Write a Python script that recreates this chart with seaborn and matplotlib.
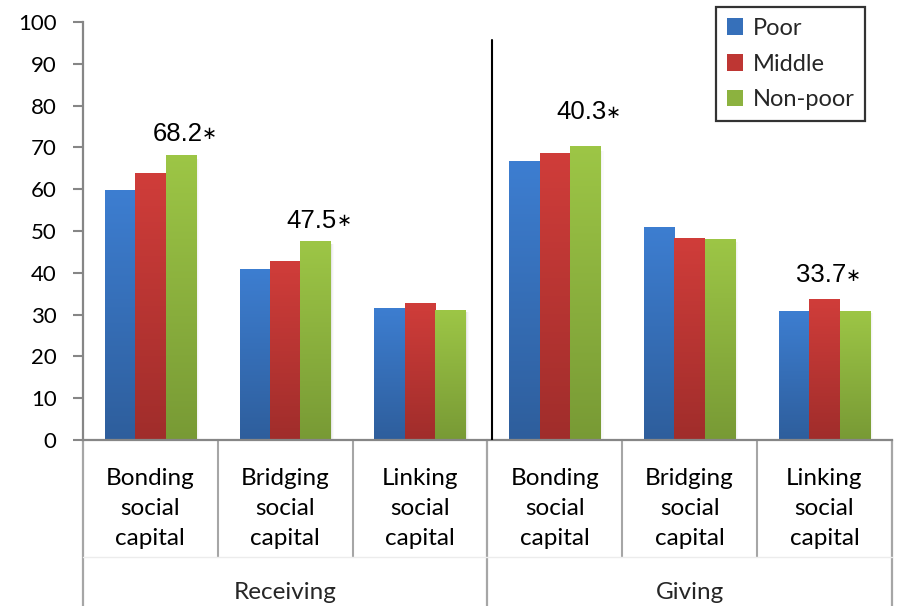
import numpy as np
import pandas as pd
import matplotlib
matplotlib.use("Agg")
import matplotlib.pyplot as plt
import matplotlib.transforms as mtransforms
from matplotlib.patches import Patch, Rectangle
from matplotlib.colors import LinearSegmentedColormap
import seaborn as sns

# ---- data -------------------------------------------------------------
slots = ["R-bond", "R-bridge", "R-link", "G-bond", "G-bridge", "G-link"]
category_labels = ["Bonding\nsocial\ncapital", "Bridging\nsocial\ncapital",
                   "Linking\nsocial\ncapital"] * 2
group_labels = ["Receiving", "Giving"]
income_levels = ["Poor", "Middle", "Non-poor"]

poor = [59.8, 41.0, 31.6, 66.7, 51.0, 30.9]
middle = [63.9, 42.8, 32.8, 68.7, 48.3, 33.7]
non_poor = [68.2, 47.5, 31.1, 70.3, 48.1, 30.9]

# significance notes: (slot index, income level, text)
notes = [(0, "Non-poor", "68.2"), (1, "Non-poor", "47.5"),
         (3, "Non-poor", "40.3"), (5, "Middle", "33.7")]
note_offsets = [3.3, 3.3, 6.4, 4.0]

# gradient colours (top, bottom) per income level
top_colors = ["#3d7ed1", "#d03d3a", "#9dc646"]
bottom_colors = ["#2e5e9c", "#a02d2b", "#789a35"]

df = pd.DataFrame({
    "slot": slots * 3,
    "income": np.repeat(income_levels, len(slots)),
    "value": poor + middle + non_poor,
})

# ---- figure -----------------------------------------------------------
sns.set_theme(style="white")
plt.rcParams["font.family"] = ["Lato", "DejaVu Sans"]

fig = plt.figure(figsize=(8.97, 6.06), dpi=100)
ax = fig.add_axes([0.0925, 0.274, 0.9017, 0.6897])

sns.barplot(data=df, x="slot", y="value", hue="income", order=slots,
            hue_order=income_levels, palette=top_colors, width=0.675,
            gap=0, legend=False, ax=ax, saturation=1)

ax.set_ylim(0, 100)
ax.set_xlim(-0.5, 5.5)

# vertical gradient fill for each bar, plus a soft shadow on its right
bars = [p for p in ax.patches if isinstance(p, Rectangle)]
grad = np.linspace(0, 1, 256).reshape(-1, 1)
for i, bar in enumerate(list(bars)):
    lvl = i // len(slots)
    cmap = LinearSegmentedColormap.from_list(
        f"g{i}", [bottom_colors[lvl], top_colors[lvl]])
    x0, w = bar.get_x(), bar.get_width()
    h = bar.get_height()
    bar.set_facecolor("none")
    bar.set_edgecolor("none")
    if lvl == len(income_levels) - 1:
        for k, a in enumerate([0.10, 0.06, 0.03]):
            ax.add_patch(Rectangle((x0 + w, 0), 0.008 * (k + 1), h * 0.985,
                                   facecolor="#7f7f7f", alpha=a,
                                   edgecolor="none", zorder=1))
    im = ax.imshow(grad, extent=(x0, x0 + w, 0, h), origin="lower",
                   cmap=cmap, aspect="auto", zorder=2)
    im.set_clip_path(bar)
ax.set_xlim(-0.5, 5.5)
ax.set_ylim(0, 100)

# value notes with a small significance mark after each number
pos = {lvl: (j - 1) * 0.225 for j, lvl in enumerate(income_levels)}
vals = dict(zip(income_levels, [poor, middle, non_poor]))
for (s, lvl, txt), off in zip(notes, note_offsets):
    x = s + pos[lvl]
    y = vals[lvl][s] + off
    ax.text(x + 0.16, y, txt, ha="right", va="baseline", fontsize=18.5,
            family=["Liberation Sans", "DejaVu Sans"], color="black")
    ax.text(x + 0.155, y + 0.4, "\u2217", ha="left", va="baseline",
            fontsize=13, family=["DejaVu Sans"], color="black")

# spines & ticks
gray = "#868686"
for side in ["top", "right"]:
    ax.spines[side].set_visible(False)
ax.spines["left"].set_color(gray)
ax.spines["left"].set_linewidth(1.6)
ax.spines["bottom"].set_color(gray)
ax.spines["bottom"].set_linewidth(1.6)
ax.set_yticks(range(0, 101, 10))
ax.tick_params(axis="y", left=True, length=7, width=1.5, color=gray,
               labelsize=16, pad=12, labelcolor="black")
ax.set_xticks(range(len(slots)))
ax.set_xticklabels(category_labels, fontsize=17.5, linespacing=1.55)
ax.tick_params(axis="x", bottom=False, pad=14, labelcolor="black")
ax.set_xlabel("")
ax.set_ylabel("")

# category and group separators below the axis
trans = mtransforms.blended_transform_factory(ax.transData, ax.transAxes)
for b in [0.5, 1.5, 3.5, 4.5]:
    ax.plot([b, b], [0, -0.28], transform=trans, color="#a6a6a6",
            lw=1.5, clip_on=False)
for b in [-0.5, 2.5, 5.5]:
    ax.plot([b, b], [0, -0.40], transform=trans, color="#a6a6a6",
            lw=1.6, clip_on=False)
ax.plot([-0.5, 5.5], [-0.28, -0.28], transform=trans, color="#ececec",
        lw=1.0, clip_on=False)
for g, name in enumerate(group_labels):
    ax.text(1 + 3 * g, -0.381, name, transform=trans, ha="center",
            va="baseline", fontsize=17.5)

# divider between receiving and giving
ax.plot([2.532, 2.532], [0, 95.7], color="black", lw=1.5, zorder=3)

# legend
handles = [Patch(facecolor=c, edgecolor="none") for c in
           ["#3670ba", "#be3633", "#8cb23f"]]
leg = ax.legend(handles, income_levels, loc="upper right",
                bbox_to_anchor=(0.967, 1.035), fontsize=17, frameon=True,
                fancybox=False, handlelength=0.7, handleheight=0.7,
                handletextpad=0.4, labelspacing=0.62, borderpad=0.45,
                borderaxespad=0)
leg.get_frame().set_edgecolor("black")
leg.get_frame().set_linewidth(1.6)

fig.savefig("out.png", dpi=100)
